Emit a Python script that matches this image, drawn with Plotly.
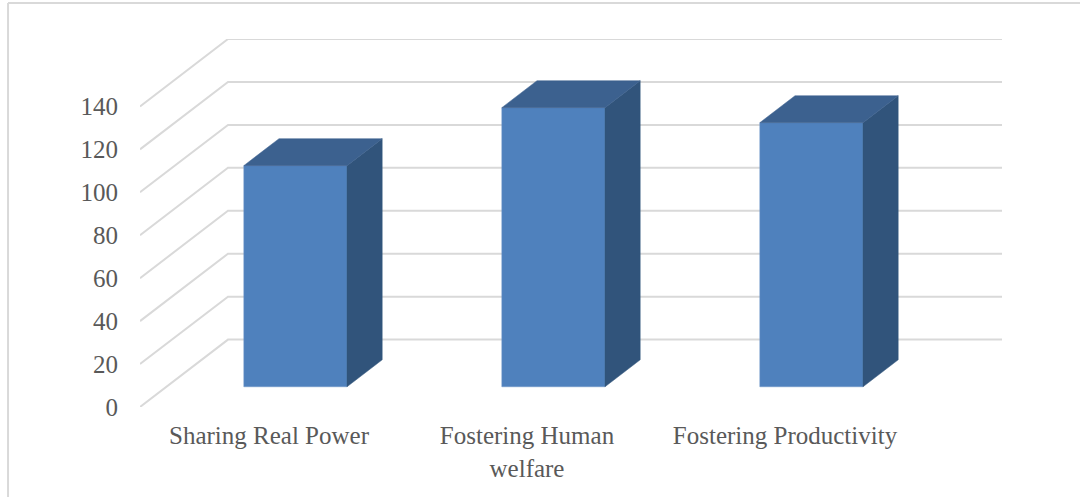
import plotly.graph_objects as go

categories = ["Sharing Real Power", "Fostering Human<br>welfare", "Fostering Productivity"]
values = [103, 130, 123]
y_ticks = [0, 20, 40, 60, 80, 100, 120, 140]

# Oblique projection of the 3D chart: depth 0 = front of floor, 1 = back wall
DX = 88 / 258      # x-axis units per full depth
DY = 67.5 / 2.15   # value units per full depth
D_FRONT, D_BACK = 0.3, 0.7
BAR_W = 0.4

GRID = "#d9d9d9"
TEXT = "#595959"
FRONT, TOP, SIDE = "#4f81bd", "#3c618f", "#31547b"


def proj(x, v, d):
    return x + DX * d, v + DY * d


fig = go.Figure()

# Floor/side diagonals and back-wall gridlines, kept beneath the bars
grid_shapes = []
for t in y_ticks:
    x0, y0 = proj(-0.5, t, 0)
    x1, y1 = proj(-0.5, t, 1)
    x2, y2 = proj(2.5, t, 1)
    grid_shapes.append(dict(type="path", xref="x", yref="y", layer="below",
                            path=f"M{x0},{y0} L{x1},{y1} L{x2},{y2}",
                            line=dict(color=GRID, width=2)))

# Bars: front face is a real bar, top and side are projected from the same values
bx = []
bb = []
for i, v in enumerate(values):
    l = i - BAR_W / 2
    r = i + BAR_W / 2
    fl = proj(l, 0, D_FRONT)
    bx.append(fl[0] + BAR_W / 2)
    bb.append(fl[1])
    pts_side = [proj(r, 0, D_FRONT), proj(r, 0, D_BACK), proj(r, v, D_BACK), proj(r, v, D_FRONT)]
    pts_top = [proj(l, v, D_FRONT), proj(l, v, D_BACK), proj(r, v, D_BACK), proj(r, v, D_FRONT)]
    for pts, col in ((pts_side, SIDE), (pts_top, TOP)):
        fig.add_trace(go.Scatter(x=[p[0] for p in pts] + [pts[0][0]],
                                 y=[p[1] for p in pts] + [pts[0][1]],
                                 mode="lines", fill="toself", fillcolor=col,
                                 line=dict(color=col, width=0.5),
                                 hoverinfo="skip", showlegend=False))

fig.add_trace(go.Bar(x=bx, y=values, base=bb, width=BAR_W,
                     marker=dict(color=FRONT, line=dict(color="#6f96c8", width=0.5)),
                     showlegend=False))

frame = [
    dict(type="line", xref="paper", yref="paper", x0=-0.1531, x1=1.0905, y0=1.0978, y1=1.0978,
         line=dict(color=GRID, width=2)),
    dict(type="line", xref="paper", yref="paper", x0=-0.1531, x1=-0.1531, y0=1.0978, y1=-0.2446,
         line=dict(color=GRID, width=2)),
]

fig.update_layout(
    width=1080, height=497,
    autosize=False,
    margin=dict(l=140, r=78, t=39, b=90),
    paper_bgcolor="white", plot_bgcolor="white",
    font=dict(family="Liberation Serif", size=25, color=TEXT),
    showlegend=False,
    xaxis=dict(range=[-0.5, 2.5 + DX], tickmode="array", tickvals=[0, 1, 2],
               ticktext=categories, showgrid=False, zeroline=False, showline=False,
               ticks="", tickangle=0, ticklabelstandoff=11, automargin=False),
    yaxis=dict(range=[0, 140 + DY], tickmode="array", tickvals=y_ticks,
               showgrid=False, zeroline=False, showline=False, ticks="",
               ticklabelstandoff=21, automargin=False),
    shapes=grid_shapes + frame,
)

fig.write_html("out.html", config={"displayModeBar": False},
               post_script="document.body.style.margin='0';document.body.style.overflow='hidden';")
